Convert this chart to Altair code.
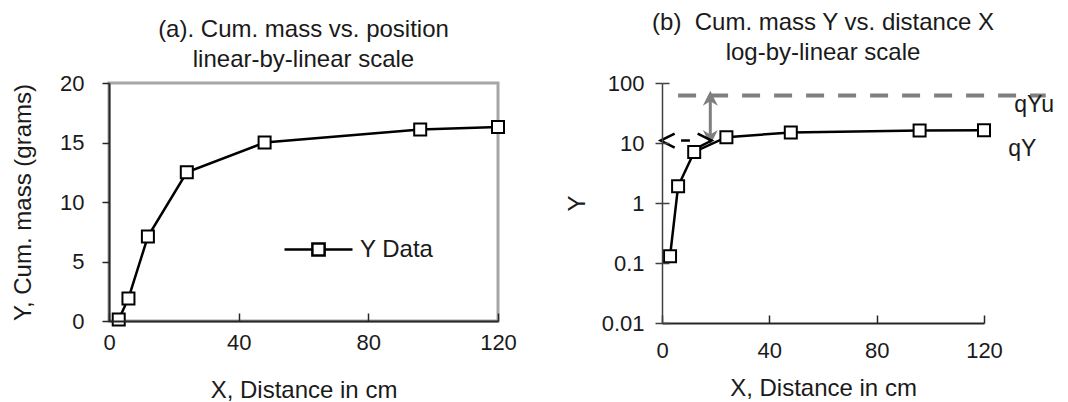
import altair as alt
import pandas as pd

# ---------------- data ----------------
x_cm = [3, 6, 12, 24, 48, 96, 120]
y_mass = [0.13, 1.9, 7.1, 12.5, 15.0, 16.1, 16.3]
series_name = ["Y Data"] * len(x_cm)

x_ticks = [0, 40, 80, 120]
ya_ticks = [0, 5, 10, 15, 20]
yb_ticks = [0.01, 0.1, 1, 10, 100]

# annotations of panel (b)
qyu_x = [6, 143]
qyu_y = [62]
gray_arrow_x = [18]
gray_arrow_tip_y = [9.3, 74]      # bottom tip, top tip
gray_shaft_y = [12, 55]
black_arrow_x = [-0.5, 18.5]      # left tip, right tip
black_arrow_y = [11]
black_dash_x = [7.1, 10.4]
note_text = ["qYu", "qY"]
note_x = [131.3, 129]
note_y = [33.4, 6.05]

# ---------------- style ----------------
FONT = "Liberation Sans"
FS = 22      # tick labels
FT = 24      # titles
TXT = "#1a1a1a"
DARK = "#262626"
GRAY = "#7f7f7f"
FRAME = "#a6a6a6"

LEG_SYM = "M-1,0H-0.18M0.18,0H1M-0.18,-0.18H0.18V0.18H-0.18Z"
UP_HEAD = "M0,0L-0.5,1L0,0.7L0.5,1Z"
DOWN_HEAD = "M0,0L-0.5,-1L0,-0.7L0.5,-1Z"
LEFT_CHEV = "M1,-0.5L0,0L1,0.5"
RIGHT_CHEV = "M-1,-0.5L0,0L-1,0.5"

df = pd.DataFrame({"X": x_cm, "Y": y_mass, "series": series_name})


def ax(**kw):
    d = dict(labelFont=FONT, labelFontSize=FS, labelColor=TXT, titleFont=FONT,
             titleFontSize=FT, titleColor=TXT, titleFontWeight="normal", grid=False,
             labelOverlap=False)
    d.update(kw)
    return alt.Axis(**d)


def ticks_only(values, orient, off, size, color, width):
    return alt.Axis(values=values, orient=orient, offset=off, tickSize=size, tickColor=color,
                    tickWidth=width, labels=False, domain=False, title=None, grid=False, zindex=1)


# ---------------- panel (a) ----------------
xa = alt.Scale(domain=[0, 120], nice=False, zero=False)
ya = alt.Scale(domain=[0, 20], nice=False)

ya_axis = ax(values=ya_ticks, title="Y, Cum. mass (grams)", orient="left", domainColor=DARK,
             domainWidth=2, tickColor=DARK, tickWidth=1.5, tickSize=7, labelPadding=18,
             titlePadding=24, zindex=1)
xa_main = ax(values=x_ticks, title="X, Distance in cm", orient="bottom", domainColor=DARK,
             domainWidth=2, ticks=False, tickSize=0, labelPadding=11, titlePadding=25,
             zindex=1, labelFlush=False)
xa_in = ticks_only(x_ticks, "bottom", -8, 8, DARK, 1.5)

line_a = alt.Chart(df).mark_line(strokeWidth=2.5).encode(
    x=alt.X("X:Q", scale=xa, axis=xa_main),
    y=alt.Y("Y:Q", scale=ya, axis=ya_axis),
    color=alt.Color("series:N", scale=alt.Scale(range=["black"]),
                    legend=alt.Legend(title=None, orient="none", legendX=174, legendY=131,
                                      symbolType=LEG_SYM, symbolSize=4624,
                                      symbolStrokeWidth=2.5, symbolStrokeColor="black",
                                      labelFont=FONT, labelFontSize=FT, labelColor=TXT,
                                      labelOffset=6, padding=0)),
)
pts_a = alt.Chart(df).mark_point(shape="square", size=144, filled=True, fill="white",
                                 stroke="black", strokeWidth=2, opacity=1).encode(
    x=alt.X("X:Q", scale=xa, axis=xa_in),
    y=alt.Y("Y:Q", scale=ya, axis=ya_axis),
)
panel_a = alt.layer(line_a, pts_a).resolve_axis(x="independent").properties(
    width=389, height=238,
    title=alt.TitleParams(["(a). Cum. mass vs. position", "linear-by-linear scale"],
                          font=FONT, fontSize=FT, fontWeight="normal", color=TXT,
                          lineHeight=30, offset=0, anchor="middle"),
    view=alt.ViewBackground(stroke=FRAME, strokeWidth=3),
)

# ---------------- panel (b) ----------------
xb = alt.Scale(domain=[0, 120], nice=False, zero=False)
yb = alt.Scale(type="log", domain=[0.01, 100], nice=False)

yb_main = ax(values=yb_ticks, title="Y", orient="left", format="~g", domainColor="#404040",
             domainWidth=1.5, tickColor="#404040", tickWidth=1.5, tickSize=7, labelPadding=11,
             titlePadding=12, zindex=1)
yb_in = ticks_only(yb_ticks, "left", -7, 7, "#404040", 1.5)
xb_main = ax(values=x_ticks, title="X, Distance in cm", orient="bottom", domainColor=DARK,
             domainWidth=2, ticks=False, tickSize=0, labelPadding=17, titlePadding=15,
             zindex=1, labelFlush=False)
xb_in = ticks_only(x_ticks, "bottom", -8, 8, DARK, 1.5)

line_b = alt.Chart(df).mark_line(strokeWidth=2.5, color="black").encode(
    x=alt.X("X:Q", scale=xb, axis=xb_main),
    y=alt.Y("Y:Q", scale=yb, axis=yb_main),
)
pts_b = alt.Chart(df).mark_point(shape="square", size=144, filled=True, fill="white",
                                 stroke="black", strokeWidth=2, opacity=1).encode(
    x=alt.X("X:Q", scale=xb, axis=xb_in),
    y=alt.Y("Y:Q", scale=yb, axis=yb_in),
)

qyu_df = pd.DataFrame({"x": [qyu_x[0]], "x2": [qyu_x[1]], "y": qyu_y})
qyu_rule = alt.Chart(qyu_df).mark_rule(color=GRAY, strokeWidth=4, strokeDash=[18, 14]).encode(
    x=alt.X("x:Q", scale=xb, axis=None), x2="x2:Q",
    y=alt.Y("y:Q", scale=yb, axis=None),
)

shaft_df = pd.DataFrame({"x": gray_arrow_x, "y": [gray_shaft_y[0]], "y2": [gray_shaft_y[1]]})
shaft = alt.Chart(shaft_df).mark_rule(color=GRAY, strokeWidth=3).encode(
    x=alt.X("x:Q", scale=xb, axis=None),
    y=alt.Y("y:Q", scale=yb, axis=None), y2="y2:Q",
)
up_df = pd.DataFrame({"x": gray_arrow_x, "y": [gray_arrow_tip_y[1]]})
down_df = pd.DataFrame({"x": gray_arrow_x, "y": [gray_arrow_tip_y[0]]})
up_head = alt.Chart(up_df).mark_point(shape=UP_HEAD, size=900, filled=True, color=GRAY,
                                      opacity=1).encode(
    x=alt.X("x:Q", scale=xb, axis=None), y=alt.Y("y:Q", scale=yb, axis=None))
down_head = alt.Chart(down_df).mark_point(shape=DOWN_HEAD, size=900, filled=True, color=GRAY,
                                          opacity=1).encode(
    x=alt.X("x:Q", scale=xb, axis=None), y=alt.Y("y:Q", scale=yb, axis=None))

lchev_df = pd.DataFrame({"x": [black_arrow_x[0]], "y": black_arrow_y})
rchev_df = pd.DataFrame({"x": [black_arrow_x[1]], "y": black_arrow_y})
lchev = alt.Chart(lchev_df).mark_point(shape=LEFT_CHEV, size=784, filled=False, color="black",
                                       strokeWidth=2.5, opacity=1).encode(
    x=alt.X("x:Q", scale=xb, axis=None), y=alt.Y("y:Q", scale=yb, axis=None))
rchev = alt.Chart(rchev_df).mark_point(shape=RIGHT_CHEV, size=784, filled=False, color="black",
                                       strokeWidth=2.5, opacity=1).encode(
    x=alt.X("x:Q", scale=xb, axis=None), y=alt.Y("y:Q", scale=yb, axis=None))
dash_df = pd.DataFrame({"x": [black_dash_x[0]], "x2": [black_dash_x[1]], "y": black_arrow_y})
bdash = alt.Chart(dash_df).mark_rule(color="black", strokeWidth=2.5).encode(
    x=alt.X("x:Q", scale=xb, axis=None), x2="x2:Q",
    y=alt.Y("y:Q", scale=yb, axis=None))

notes_df = pd.DataFrame({"t": note_text, "x": note_x, "y": note_y})
notes = alt.Chart(notes_df).mark_text(align="left", baseline="alphabetic", font=FONT,
                                      fontSize=23, color=TXT).encode(
    x=alt.X("x:Q", scale=xb, axis=None), y=alt.Y("y:Q", scale=yb, axis=None), text="t:N")

panel_b = alt.layer(qyu_rule, shaft, up_head, down_head, bdash, lchev, rchev, line_b, pts_b,
                    notes).resolve_axis(x="independent", y="independent").properties(
    width=322, height=240,
    title=alt.TitleParams(["(b) \u00a0Cum. mass Y vs. distance X", "log-by-linear scale"],
                          font=FONT, fontSize=FT, fontWeight="normal", color=TXT,
                          lineHeight=30, offset=7, anchor="middle"),
)

chart = alt.hconcat(panel_a, panel_b, spacing=46).properties(
    padding={"left": 2, "top": 2, "right": 0, "bottom": 0}, background="white"
).configure_view(stroke="transparent")

chart.save("out.html", embed_options={"renderer": "svg", "actions": False})
